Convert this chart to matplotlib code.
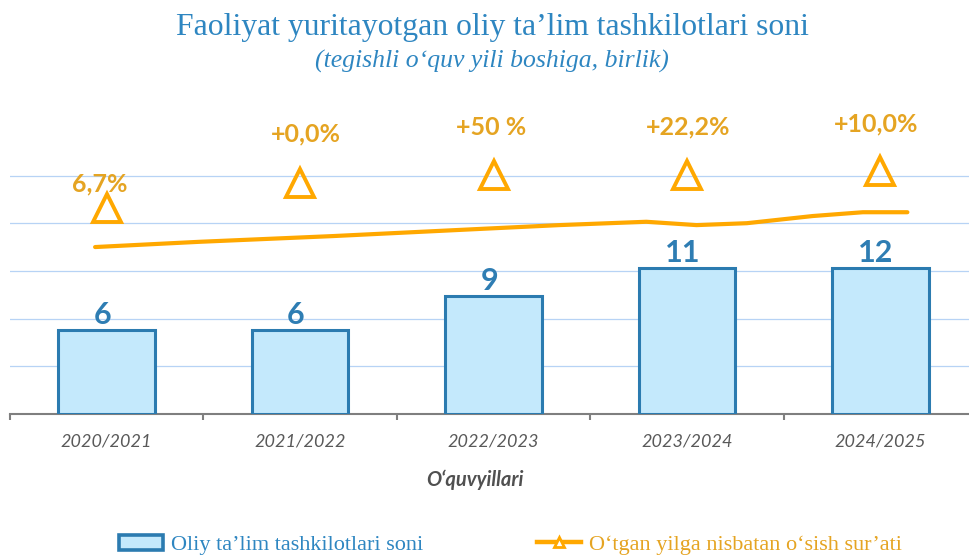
"""Faoliyat yuritayotgan oliy ta'lim tashkilotlari soni - bar + growth line"""

import matplotlib
matplotlib.use("Agg")
import matplotlib.pyplot as plt
from matplotlib.lines import Line2D

# --- data ---
years = ["2020/2021", "2021/2022", "2022/2023", "2023/2024", "2024/2025"]
bar_labels = ["6", "6", "9", "11", "12"]
# drawn bar heights, in gridline steps (as they appear in the picture)
bar_heights = [1.76, 1.76, 2.47, 3.06, 3.06]

growth_labels = ["6,7%", "+0,0%", "+50 %", "+22,2%", "+10,0%"]
# triangle markers, in gridline steps
growth_marks = [4.32, 4.85, 5.02, 5.02, 5.09]

# the smooth trend line (category position, gridline steps)
trend_x = [-0.06, 0.48, 1.17, 1.93, 2.34, 2.79, 3.05, 3.31, 3.65, 3.91, 4.14]
trend_y = [3.50, 3.61, 3.73, 3.88, 3.96, 4.03, 3.96, 4.00, 4.15, 4.23, 4.23]

BLUE = "#2B7BB0"
BAR_FILL = "#C4E9FC"
ORANGE = "#FFA800"
ORANGE_TXT = "#E5A422"
TITLE_BLUE = "#2E86C1"


def main():
    fig = plt.figure(figsize=(9.69, 5.56), dpi=100)
    ax = fig.add_axes([10 / 969, 142 / 556, 967 / 969, 7 * 47.7 / 556])

    x = list(range(len(years)))

    ax.bar(x, bar_heights, width=0.5, color=BAR_FILL, edgecolor=BLUE,
           linewidth=2.2, zorder=3)
    for xi, h, lab in zip(x, bar_heights, bar_labels):
        ax.annotate(lab, (xi, h), xytext=(-3, 1), textcoords="offset points",
                    ha="center", va="bottom", fontsize=22, fontweight="bold",
                    family="Lato", color="#2E7DB3", zorder=5)

    ax.plot(trend_x, trend_y, color=ORANGE, lw=3, solid_capstyle="round",
            zorder=4)
    ax.plot(x, growth_marks, linestyle="none", marker="^", ms=19.5,
            mfc="none", mec=ORANGE, mew=2.8, zorder=4)

    label_dy = [17, 35, 34, 34, 34]
    label_dx = [-5, 4, -2, 1, -3]
    for xi, m, lab, dx, dy in zip(x, growth_marks, growth_labels, label_dx, label_dy):
        ax.annotate(lab, (xi, m), xytext=(dx, dy), textcoords="offset points",
                    ha="center", va="center", fontsize=18, fontweight="bold",
                    family="Lato", color=ORANGE_TXT, zorder=5)

    ax.set_xlim(-0.5, 4.5)
    ax.set_ylim(0, 7)
    ax.set_yticks(range(6))
    ax.yaxis.grid(True, color="#B7D3F5", lw=0.9)
    ax.set_axisbelow(True)
    ax.tick_params(axis="y", left=False, labelleft=False)

    for s in ("left", "right", "top"):
        ax.spines[s].set_visible(False)
    ax.spines["bottom"].set_color("#7F7F7F")
    ax.spines["bottom"].set_linewidth(1.5)

    ax.set_xticks(x)
    ax.set_xticklabels(years, fontsize=13, style="italic", family="Lato",
                       color="#595959")
    ax.set_xticks([i - 0.5 for i in range(len(years) + 1)], minor=True)
    ax.tick_params(axis="x", which="major", length=0, pad=14)
    ax.tick_params(axis="x", which="minor", length=4.5, width=1.5,
                   color="#7F7F7F")

    fig.text(475 / 969, 1 - 480 / 556, "O\u2018quvyillari", ha="center",
             va="center", fontsize=14.5, fontweight="bold", style="italic",
             family="Lato", color="#505050")

    fig.text(492 / 969, 1 - 35 / 556,
             "Faoliyat yuritayotgan oliy ta\u2019lim tashkilotlari soni",
             ha="center", va="baseline", fontsize=22.8, family="Liberation Serif",
             color=TITLE_BLUE)
    fig.text(492 / 969, 1 - 68 / 556,
             "(tegishli o\u2018quv yili boshiga, birlik)",
             ha="center", va="baseline", fontsize=18.5, style="italic",
             family="Liberation Serif", color=TITLE_BLUE)

    bar_handle = plt.Rectangle((0, 0), 1, 1, facecolor=BAR_FILL,
                               edgecolor=BLUE, linewidth=2.6)
    line_handle = Line2D([], [], color=ORANGE, lw=3.2, marker="^", ms=7,
                         mfc="white", mec=ORANGE, mew=2)
    fig.legend([bar_handle, line_handle],
               ["Oliy ta\u2019lim tashkilotlari soni",
                "O\u2018tgan yilga nisbatan o\u2018sish sur\u2019ati"],
               loc="center", bbox_to_anchor=(0.527, 0.02), ncol=2,
               frameon=False, borderpad=0, handlelength=1.98,
               handletextpad=0.36, columnspacing=5.1,
               prop={"family": "Liberation Serif", "size": 16},
               labelcolor=[TITLE_BLUE, ORANGE_TXT])

    fig.savefig("out.png", dpi=100)


if __name__ == "__main__":
    main()
